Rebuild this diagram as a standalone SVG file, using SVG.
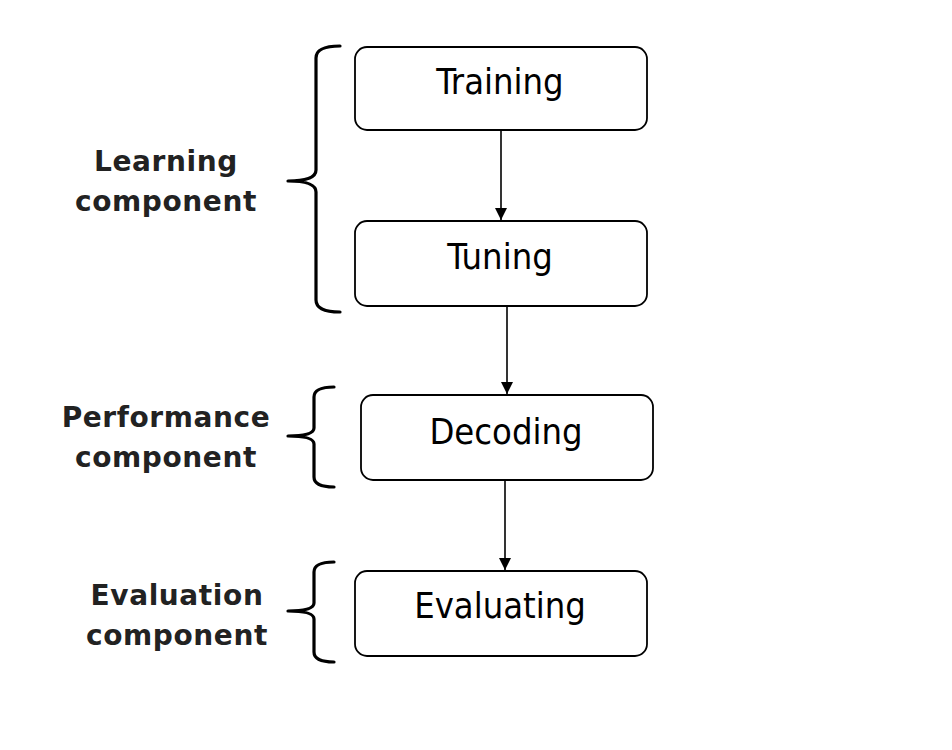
<svg xmlns="http://www.w3.org/2000/svg" width="952" height="750" viewBox="0 0 952 750">
<style>
.box{fill:#fff;stroke:#000;stroke-width:1.8}
.nt{font-family:"DejaVu Sans Condensed","DejaVu Sans",sans-serif;font-size:36px;fill:#000;text-anchor:middle}
.lb{font-family:"DejaVu Sans","Verdana",sans-serif;font-weight:bold;font-size:28px;fill:#222;text-anchor:middle;letter-spacing:0.6px}
.br{fill:none;stroke:#000;stroke-width:3.2;stroke-linejoin:round;stroke-linecap:round}
.cn{stroke:#000;stroke-width:1.6;fill:none}
</style>
<defs>
<marker id="ah" markerWidth="14" markerHeight="14" refX="12" refY="6" orient="auto" markerUnits="userSpaceOnUse">
<path d="M0,0 L12,6 L0,12 z" fill="#000"/>
</marker>
</defs>
<rect width="952" height="750" fill="#fff"/>
<g id="connectors">
<line class="cn" x1="501" y1="131" x2="501" y2="220" marker-end="url(#ah)"/>
<line class="cn" x1="507" y1="307" x2="507" y2="394" marker-end="url(#ah)"/>
<line class="cn" x1="505" y1="481" x2="505" y2="570" marker-end="url(#ah)"/>
</g>
<g id="training"><rect class="box" x="355" y="47" width="292" height="83" rx="12"/><text class="nt" x="500" y="94">Training</text></g>
<g id="tuning"><rect class="box" x="355" y="221" width="292" height="85" rx="12"/><text class="nt" x="500" y="269">Tuning</text></g>
<g id="decoding"><rect class="box" x="361" y="395" width="292" height="85" rx="12"/><text class="nt" x="506" y="444">Decoding</text></g>
<g id="evaluating"><rect class="box" x="355" y="571" width="292" height="85" rx="12"/><text class="nt" x="500" y="618">Evaluating</text></g>
<g id="learning-brace">
<path class="br" d="M340,46 Q316,46 316,58 L316,170 Q316,181 288,181 Q316,181 316,192 L316,300 Q316,312 340,312"/>
<text class="lb" x="166" y="171">Learning</text><text class="lb" x="166" y="211">component</text>
</g>
<g id="performance-brace">
<path class="br" d="M334,387 Q314,387 314,397 L314,428 Q314,436 288,436 Q314,436 314,444 L314,477 Q314,487 334,487"/>
<text class="lb" x="166" y="427">Performance</text><text class="lb" x="166" y="467">component</text>
</g>
<g id="evaluation-brace">
<path class="br" d="M334,562 Q314,562 314,572 L314,603 Q314,611 288,611 Q314,611 314,619 L314,652 Q314,662 334,662"/>
<text class="lb" x="177" y="605">Evaluation</text><text class="lb" x="177" y="645">component</text>
</g>
</svg>
